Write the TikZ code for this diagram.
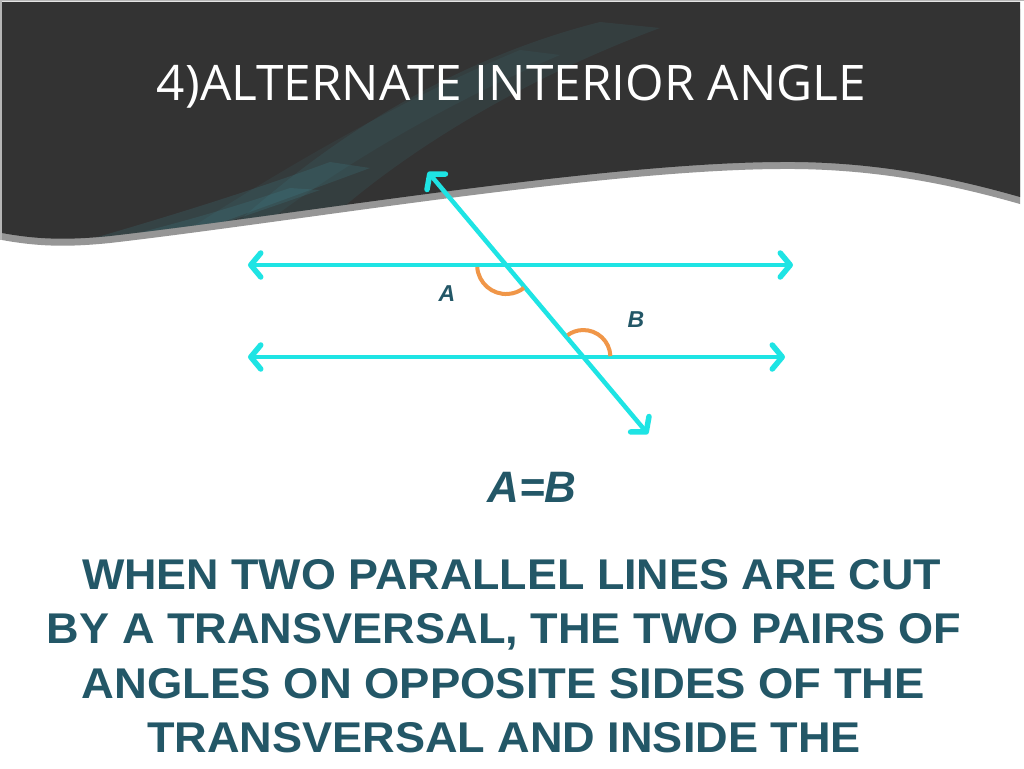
\documentclass[tikz,border=0pt]{standalone}
\usepackage{fontspec}
\setmainfont{Liberation Sans}
\newfontfamily\titlefont{Open Sans}
\usetikzlibrary{arrows.meta}
\definecolor{hdr}{RGB}{51,51,51}
\definecolor{band}{RGB}{150,150,150}
\definecolor{glow}{RGB}{70,160,175}
\definecolor{cyanline}{RGB}{30,228,228}
\definecolor{arcorange}{RGB}{240,150,72}
\definecolor{tealtext}{RGB}{35,87,103}
\def\hdrpath{(2,2) -- (1020,2) -- (1020,197) .. controls (960,180) and (880,161) .. (780,162) .. controls (600,163) and (300,214) .. (110,236) .. controls (70,240) and (40,240) .. (2,233) -- cycle}
\tikzset{
  barb/.tip={Straight Barb[length=10pt,width=24pt,line width=5.5pt,round]},
  geoline/.style={draw=cyanline, line width=4.5pt, barb-barb},
  anglearc/.style={draw=arcorange, line width=4pt},
  anglelabel/.style={text=tealtext, font=\fontsize{23}{23}\selectfont\bfseries\itshape, inner sep=0pt},
  bodyline/.style={text=tealtext, anchor=base, inner sep=0pt},
  titletext/.style={text=white, anchor=base, inner sep=0pt}
}
\newcommand{\bodyfont}{\fontsize{43}{43}\selectfont\bfseries}
\begin{document}
\begin{tikzpicture}[x=1pt,y=-1pt]
\useasboundingbox (0,0) rectangle (1024,768);
\fill[white] (0,0) rectangle (1024,768);
% header
\fill[band, yshift=-7pt] \hdrpath;
\fill[hdr] \hdrpath;
\begin{scope}
  \clip \hdrpath;
  \fill[glow, opacity=0.10] (240,220) .. controls (330,140) and (450,60) .. (600,22) -- (660,28) .. controls (520,80) and (410,150) .. (340,210) -- cycle;
  \fill[glow, opacity=0.08] (180,235) .. controls (280,170) and (400,100) .. (520,50) -- (560,55) .. controls (430,110) and (320,180) .. (250,235) -- cycle;
  \fill[glow, opacity=0.15] (70,245) .. controls (150,222) and (240,195) .. (330,162) -- (370,168) .. controls (270,205) and (200,230) .. (160,245) -- cycle;
  \fill[glow, opacity=0.15] (90,245) .. controls (160,228) and (220,212) .. (290,188) -- (320,190) .. controls (240,218) and (190,235) .. (150,245) -- cycle;
\end{scope}
\draw[band!70, line width=1.5pt] (0,0.75) -- (1024,0.75);
\draw[band!70, line width=1.5pt] (0.75,0) -- (0.75,240);
% title
\node[titletext] (title) at (511.5,100) {\resizebox{709pt}{\height}{\titlefont\fontsize{49}{49}\selectfont 4)ALTERNATE INTERIOR ANGLE}};
% geometry
\coordinate (a1) at (248,265);
\coordinate (a2) at (793,265);
\coordinate (b1) at (248,357);
\coordinate (b2) at (785,357);
\coordinate (t1) at (428,172);
\coordinate (t2) at (648,434);
\coordinate (xa) at (intersection of t1--t2 and a1--a2);
\coordinate (xb) at (intersection of t1--t2 and b1--b2);
\draw[geoline] (a1) -- (a2);
\draw[geoline] (b1) -- (b2);
\draw[geoline] (t1) -- (t2);
\draw[anglearc] (xa) ++(176:29) arc[start angle=176, end angle=52, radius=29];
\draw[anglearc] (xb) ++(-2:27) arc[start angle=-2, end angle=-126, radius=27];
\node[anglelabel] (la) at (447,294) {A};
\node[anglelabel] (lb) at (636,320) {B};
% equation
\node[bodyline] (eq) at (532,502) {\fontsize{44}{44}\selectfont\bfseries\itshape A=B};
% body text
\node[bodyline] (l1) at (511.5,589) {\resizebox{859pt}{\height}{\bodyfont WHEN TWO PARALLEL LINES ARE CUT}};
\node[bodyline] (l2) at (504,643) {\resizebox{914pt}{\height}{\bodyfont BY A TRANSVERSAL, THE TWO PAIRS OF}};
\node[bodyline] (l3) at (503.5,698) {\resizebox{843pt}{\height}{\bodyfont ANGLES ON OPPOSITE SIDES OF THE}};
\node[bodyline] (l4) at (504,752) {\resizebox{714pt}{\height}{\bodyfont TRANSVERSAL AND INSIDE THE}};
\end{tikzpicture}
\end{document}
